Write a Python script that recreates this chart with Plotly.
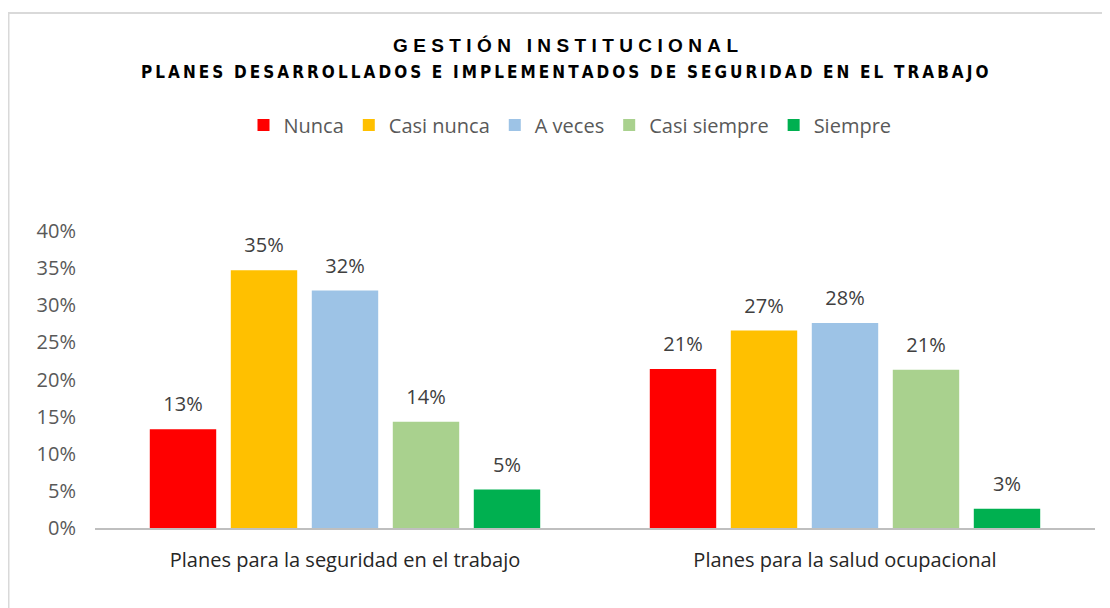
import plotly.graph_objects as go

categories = ["Planes para la seguridad en el trabajo", "Planes para la salud ocupacional"]
series = ["Nunca", "Casi nunca", "A veces", "Casi siempre", "Siempre"]
nunca = [0.133, 0.214]
casi_nunca = [0.347, 0.266]
a_veces = [0.320, 0.276]
casi_siempre = [0.143, 0.213]
siempre = [0.052, 0.026]
tick_vals = [0, 0.05, 0.10, 0.15, 0.20, 0.25, 0.30, 0.35, 0.40]

colors = ["#FF0000", "#FFC000", "#9DC3E6", "#A9D18E", "#00B050"]
values = [nunca, casi_nunca, a_veces, casi_siempre, siempre]

FONT = "Open Sans, Lato, sans-serif"


def spaced(s, sep="\u2009", word_gap="\u00a0\u00a0"):
    return word_gap.join(sep.join(w) for w in s.split(" "))


fig = go.Figure()
for name, col, vals in zip(series, colors, values):
    fig.add_trace(go.Bar(
        x=categories, y=vals, name=name, offsetgroup=name,
        marker=dict(color=col, line=dict(width=0)),
        hovertemplate="%{x}<br>" + name + ": %{y:.0%}<extra></extra>",
    ))
# value labels: text scatter with invisible markers, grouped like the bars
for name, vals in zip(series, values):
    fig.add_trace(go.Scatter(
        x=categories, y=vals, mode="markers+text", text=[f"{v:.0%}" for v in vals],
        textposition="top center", showlegend=False, hoverinfo="skip",
        offsetgroup=name,
        marker=dict(size=19, opacity=0),
        textfont=dict(family=FONT, size=20, color="#404040"),
        cliponaxis=False,
    ))

fig.update_layout(
    width=1102, height=600,
    paper_bgcolor="white", plot_bgcolor="white",
    margin=dict(l=87, r=15, t=223, b=80),
    barmode="group", bargap=0.19, bargroupgap=0.18,
    scattermode="group", scattergap=0.19,
    font=dict(family=FONT, size=20, color="#595959"),
    showlegend=True,
    legend=dict(orientation="h", x=0.475, xanchor="center", y=1.357, yanchor="middle",
                font=dict(size=20, color="#595959"), traceorder="normal",
                itemwidth=30),
    xaxis=dict(showline=True, linecolor="#BFBFBF", linewidth=2, showgrid=False,
               ticks="", ticklabelstandoff=13,
               tickfont=dict(size=20, color="#262626")),
    yaxis=dict(range=[0, 0.4], tickvals=tick_vals, tickformat=".0%", showgrid=False,
               zeroline=False, showline=False, ticklabelstandoff=18,
               tickfont=dict(size=20, color="#595959")),
)

fig.add_annotation(
    text="<b>" + spaced("GESTIÓN INSTITUCIONAL", sep="\u2009\u200a",
                        word_gap="\u00a0\u00a0\u00a0") + "</b>",
    xref="paper", yref="paper", x=0.47, y=1.626, showarrow=False,
    xanchor="center", yanchor="middle",
    font=dict(family="Liberation Sans, Arial, sans-serif", size=19, color="#000000"),
)
fig.add_annotation(
    text="<b>" + spaced("PLANES DESARROLLADOS E IMPLEMENTADOS DE SEGURIDAD EN EL TRABAJO",
                        sep="\u2009", word_gap="\u00a0\u00a0") + "</b>",
    xref="paper", yref="paper", x=0.47, y=1.535, showarrow=False,
    xanchor="center", yanchor="middle",
    font=dict(family="Liberation Sans Narrow, DejaVu Sans Condensed, Arial Narrow, sans-serif",
              size=17, color="#000000"),
)

# light frame around the chart
fig.add_shape(type="rect", xref="paper", yref="paper",
              x0=-0.0865, x1=1.05, y0=-0.4, y1=1.734,
              line=dict(color="#D9D9D9", width=2), fillcolor="rgba(0,0,0,0)", layer="below")

fig.write_html("out.html")
